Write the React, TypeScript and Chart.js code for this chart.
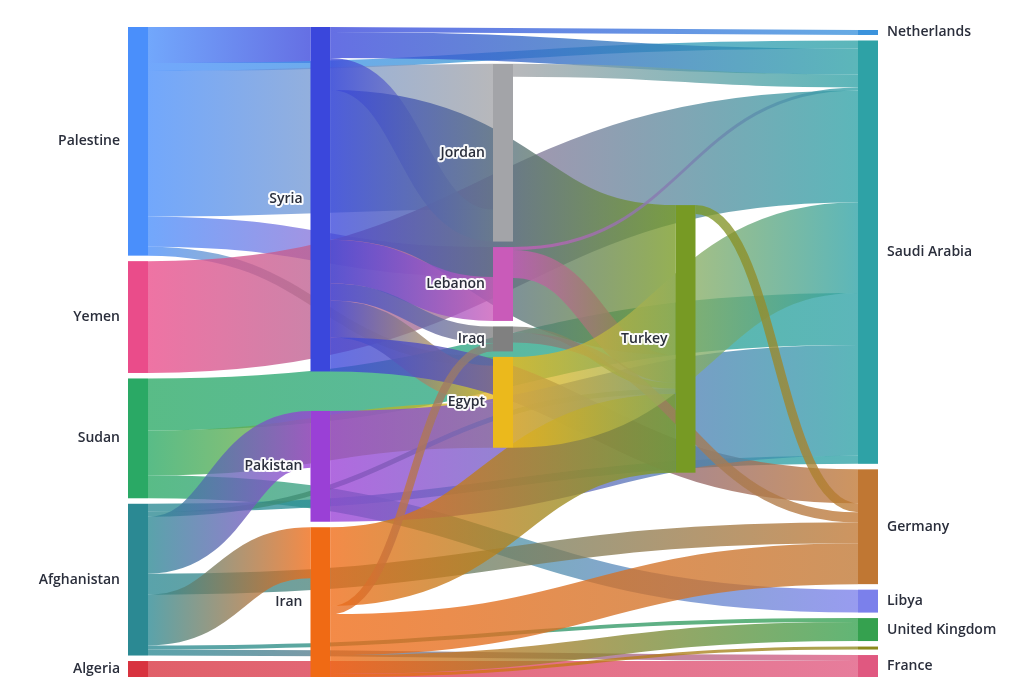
import React, { useEffect, useRef } from "react";
import { Chart, registerables } from "chart.js";

Chart.register(...registerables);

// ---------- data ----------
const nodeNames = [
  "Palestine", "Yemen", "Sudan", "Afghanistan", "Algeria",
  "Syria", "Pakistan", "Iran",
  "Jordan", "Lebanon", "Iraq", "Egypt",
  "Turkey",
  "Netherlands", "Saudi Arabia", "Germany", "Libya", "United Kingdom", "Other", "France",
];
const nodeLabels = [
  "Palestine", "Yemen", "Sudan", "Afghanistan", "Algeria",
  "Syria", "Pakistan", "Iran",
  "Jordan", "Lebanon", "Iraq", "Egypt",
  "Turkey",
  "Netherlands", "Saudi Arabia", "Germany", "Libya", "United Kingdom", "", "France",
];
const nodeColors = [
  "#4a8ffb", "#ea4c8a", "#2aa965", "#2b8993", "#d8333f",
  "#3a47dc", "#9a40d6", "#f06a14",
  "#a3a4a8", "#c95bb9", "#808080", "#ebb91c",
  "#779a24",
  "#3b93dc", "#2ea2a6", "#c07733", "#7b80eb", "#35a14f", "#8c8a1c", "#e05880",
];

const linkSources = [
  "Palestine", "Palestine", "Palestine", "Palestine", "Palestine",
  "Yemen",
  "Sudan", "Sudan", "Sudan",
  "Afghanistan", "Afghanistan", "Afghanistan", "Afghanistan", "Afghanistan", "Afghanistan", "Afghanistan",
  "Algeria",
  "Syria", "Syria", "Syria", "Syria", "Syria", "Syria", "Syria", "Syria",
  "Pakistan",
  "Iran", "Iran", "Iran", "Iran", "Iran",
  "Jordan",
  "Lebanon", "Lebanon",
  "Iraq", "Iraq",
  "Egypt",
  "Turkey",
];
const linkTargets = [
  "Syria", "Saudi Arabia", "Jordan", "Lebanon", "Egypt",
  "Saudi Arabia",
  "Saudi Arabia", "Egypt", "Libya",
  "Saudi Arabia", "Turkey", "Pakistan", "Germany", "Iran", "United Kingdom", "France",
  "France",
  "Netherlands", "Saudi Arabia", "Jordan", "Turkey", "Lebanon", "Iraq", "Egypt", "Germany",
  "Saudi Arabia",
  "Turkey", "Iraq", "Germany", "United Kingdom", "Other",
  "Saudi Arabia",
  "Saudi Arabia", "Turkey",
  "Turkey", "Germany",
  "Saudi Arabia",
  "Germany",
];
const linkValues = [
  36, 8, 146, 30, 9,
  112,
  52, 45, 23,
  8, 5, 57, 21, 51, 4, 6,
  16,
  5, 26, 32, 150, 44, 17, 37, 34,
  111,
  79, 8, 41, 19, 3,
  13,
  3, 28,
  6, 10,
  91,
  9,
];

// ---------- layout (centre-weighted sankey relaxation, fixed node order) ----------
const NODE_WIDTH = 0.1096; // in column units
const NODE_PAD = 5.5; // in value units
const ITERATIONS = 1;

type SNode = {
  index: number; name: string; label: string; color: string;
  sourceLinks: SLink[]; targetLinks: SLink[];
  value: number; depth: number; layer: number;
  x0: number; x1: number; y0: number; y1: number;
};
type SLink = {
  index: number; source: SNode; target: SNode; value: number;
  width: number; y0: number; y1: number;
};

function sumV(arr: { value: number }[]) {
  let s = 0;
  for (const a of arr) s += a.value;
  return s;
}
const centre = (n: SNode) => (n.y0 + n.y1) / 2;

function computeSankey() {
  const nodes: SNode[] = nodeNames.map((name, i) => ({
    index: i, name, label: nodeLabels[i], color: nodeColors[i],
    sourceLinks: [], targetLinks: [], value: 0, depth: 0, layer: 0,
    x0: 0, x1: 0, y0: 0, y1: 0,
  }));
  const byName = new Map(nodes.map((n) => [n.name, n] as [string, SNode]));
  const links: SLink[] = linkSources.map((s, i) => {
    const source = byName.get(s)!;
    const target = byName.get(linkTargets[i])!;
    const l: SLink = { index: i, source, target, value: linkValues[i], width: 0, y0: 0, y1: 0 };
    source.sourceLinks.push(l);
    target.targetLinks.push(l);
    return l;
  });
  for (const n of nodes) n.value = Math.max(sumV(n.sourceLinks), sumV(n.targetLinks));

  let current = new Set<SNode>(nodes);
  let next = new Set<SNode>();
  let x = 0;
  while (current.size) {
    for (const node of current) {
      node.depth = x;
      for (const l of node.sourceLinks) next.add(l.target);
    }
    if (++x > nodes.length) break;
    current = next;
    next = new Set();
  }
  const nCols = Math.max(...nodes.map((n) => n.depth)) + 1;
  const columns: SNode[][] = Array.from({ length: nCols }, () => [] as SNode[]);
  for (const n of nodes) {
    const i = n.sourceLinks.length ? n.depth : nCols - 1;
    n.layer = i;
    n.x0 = i;
    n.x1 = i + NODE_WIDTH;
    columns[i].push(n);
  }
  for (const col of columns) col.sort((a, b) => a.index - b.index);

  const py = NODE_PAD;
  const Y0 = 0;
  const Y1 = Math.max(...columns.map((c) => sumV(c) + (c.length - 1) * py));

  const ky = Math.min(...columns.map((c) => (Y1 - Y0 - (c.length - 1) * py) / sumV(c)));
  for (const col of columns) {
    col.forEach((n, i) => {
      n.y0 = i;
      n.y1 = i + n.value * ky;
    });
  }
  for (const l of links) l.width = l.value * ky;

  const resolveColumn = (col: SNode[]) => {
    let y = Y0;
    let node: SNode = col[0];
    for (let i = 0; i < col.length; ++i) {
      node = col[i];
      const dy = y - node.y0;
      if (dy > 0) { node.y0 += dy; node.y1 += dy; }
      y = node.y1 + py;
    }
    let dy = y - py - Y1;
    if (dy > 0) {
      node.y0 -= dy; node.y1 -= dy;
      y = node.y0;
      for (let i = col.length - 2; i >= 0; --i) {
        const nd = col[i];
        dy = nd.y1 + py - y;
        if (dy > 0) { nd.y0 -= dy; nd.y1 -= dy; }
        y = nd.y0;
      }
    }
  };
  const relaxLeftToRight = (alpha: number) => {
    for (const col of columns) {
      for (const n of col) {
        if (!n.targetLinks.length) continue;
        let s = 0;
        for (const l of n.targetLinks) s += centre(l.source) * l.value;
        const dy = (s / sumV(n.targetLinks) - centre(n)) * alpha;
        n.y0 += dy; n.y1 += dy;
      }
      resolveColumn(col);
    }
  };
  const relaxRightToLeft = (alpha: number) => {
    for (const col of columns.slice().reverse()) {
      for (const n of col) {
        if (!n.sourceLinks.length) continue;
        let s = 0;
        for (const l of n.sourceLinks) s += centre(l.target) * l.value;
        const dy = (s / sumV(n.sourceLinks) - centre(n)) * alpha;
        n.y0 += dy; n.y1 += dy;
      }
      resolveColumn(col);
    }
  };

  for (const col of columns) resolveColumn(col);
  let alpha = 1;
  for (let it = 0; it < ITERATIONS; ++it) {
    alpha *= 0.99;
    relaxRightToLeft(alpha);
    relaxLeftToRight(alpha);
  }

  const ascSource = (a: SLink, b: SLink) => a.source.y0 - b.source.y0 || a.index - b.index;
  const ascTarget = (a: SLink, b: SLink) => a.target.y0 - b.target.y0 || a.index - b.index;
  for (const n of nodes) {
    n.sourceLinks.sort(ascTarget);
    n.targetLinks.sort(ascSource);
  }
  for (const n of nodes) {
    let a = n.y0, b = n.y0;
    for (const l of n.sourceLinks) { l.y0 = a + l.width / 2; a += l.width; }
    for (const l of n.targetLinks) { l.y1 = b + l.width / 2; b += l.width; }
  }
  return { nodes, links, nCols, extent: Y1 };
}

// ---------- component ----------
export default function App() {
  const canvasRef = useRef<HTMLCanvasElement | null>(null);

  useEffect(() => {
    const canvas = canvasRef.current;
    if (!canvas) return;
    const layout = computeSankey();

    const sankeyPlugin = {
      id: "sankeyDraw",
      afterDatasetsDraw(chart: any) {
        const { ctx, scales } = chart;
        const xs = scales.x;
        const ys = scales.y;
        const px = (v: number) => xs.getPixelForValue(v);
        const pyv = (v: number) => ys.getPixelForValue(v);
        const unit = Math.abs(pyv(1) - pyv(0));
        ctx.save();
        for (const l of layout.links) {
          const x0 = px(l.source.x1);
          const x1 = px(l.target.x0);
          const y0 = pyv(l.y0);
          const y1 = pyv(l.y1);
          const xm = (x0 + x1) / 2;
          const g = ctx.createLinearGradient(x0, 0, x1, 0);
          g.addColorStop(0, l.source.color);
          g.addColorStop(1, l.target.color);
          ctx.globalAlpha = 0.78;
          ctx.strokeStyle = g;
          ctx.lineWidth = Math.max(1, l.width * unit);
          ctx.beginPath();
          ctx.moveTo(x0, y0);
          ctx.bezierCurveTo(xm, y0, xm, y1, x1, y1);
          ctx.stroke();
        }
        ctx.globalAlpha = 1;
        for (const n of layout.nodes) {
          const x0 = px(n.x0), x1 = px(n.x1);
          const y0 = pyv(n.y0), y1 = pyv(n.y1);
          ctx.fillStyle = n.color;
          ctx.fillRect(x0, y0, x1 - x0, Math.max(1, y1 - y0));
        }
        ctx.font = "600 14px 'Open Sans', 'Noto Sans', sans-serif";
        ctx.textBaseline = "middle";
        ctx.lineJoin = "round";
        for (const n of layout.nodes) {
          if (!n.label) continue;
          const yMid = (pyv(n.y0) + pyv(n.y1)) / 2;
          let tx: number;
          if (n.layer === layout.nCols - 1) {
            ctx.textAlign = "left";
            tx = px(n.x1) + 9;
          } else {
            ctx.textAlign = "right";
            tx = px(n.x0) - 8;
          }
          if (n.layer > 0 && n.layer < layout.nCols - 1) {
            ctx.strokeStyle = "rgba(255,255,255,0.95)";
            ctx.lineWidth = 4;
            ctx.strokeText(n.label, tx, yMid);
          }
          ctx.fillStyle = "#2a2e3b";
          ctx.fillText(n.label, tx, yMid);
        }
        ctx.restore();
      },
    };

    const chart = new Chart(canvas, {
      type: "scatter",
      data: { datasets: [{ data: [] }] },
      options: {
        responsive: true,
        maintainAspectRatio: false,
        animation: false,
        layout: { padding: { left: 128, right: 137, top: 27, bottom: 17 } },
        plugins: { legend: { display: false }, tooltip: { enabled: false } },
        scales: {
          x: { type: "linear", display: false, min: 0, max: layout.nCols - 1 + NODE_WIDTH },
          y: { type: "linear", display: false, min: 0, max: layout.extent, reverse: true },
        },
      },
      plugins: [sankeyPlugin],
    } as any);
    return () => chart.destroy();
  }, []);

  return (
    <div style={{ position: "fixed", left: 0, top: 0, width: 1015, height: 694, background: "#ffffff" }}>
      <canvas ref={canvasRef} />
    </div>
  );
}
